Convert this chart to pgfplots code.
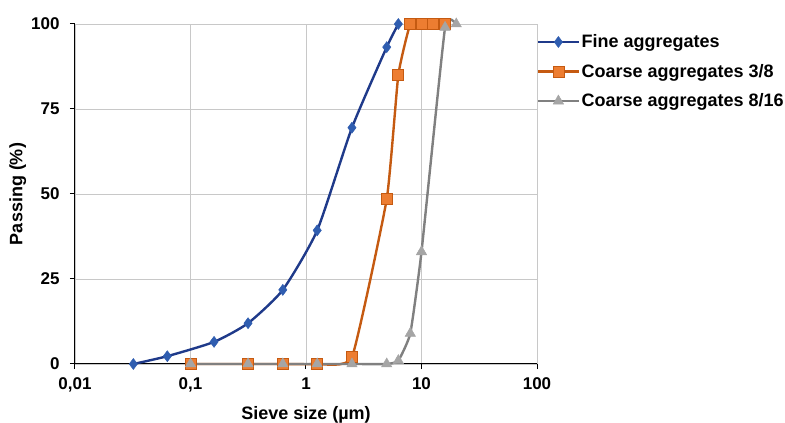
\documentclass[border=0pt]{standalone}
\usepackage{pgfplots}
\pgfplotsset{compat=1.18}
\usepackage{fontspec}
\setmainfont{Liberation Sans}
\definecolor{fineline}{HTML}{1F3A8A}
\definecolor{finemark}{HTML}{2F5DB0}
\definecolor{orline}{HTML}{C55A11}
\definecolor{ormark}{HTML}{ED7D31}
\definecolor{grline}{HTML}{808080}
\definecolor{grmark}{HTML}{A5A5A5}
\definecolor{gridc}{HTML}{C8C8C8}
\begin{document}
\begin{tikzpicture}[x=1pt,y=1pt]
\useasboundingbox (-75,-59) rectangle (710,364);
\begin{axis}[
  at={(0,0)}, anchor=south west,
  scale only axis, width=462pt, height=340pt,
  xmode=log, xmin=0.01, xmax=100, ymin=0, ymax=100,
  log basis x=10,
  xtick={0.01,0.1,1,10,100},
  xticklabels={{0,01},{0,1},1,10,100},
  ytick={0,25,50,75,100},
  minor xtick={}, 
  axis x line=bottom, axis y line=left,
  axis line style={-, black, line width=1pt},
  x axis line style={-}, y axis line style={-},
  grid=major, major grid style={gridc, line width=0.9pt},
  tick align=outside, major tick length=5pt,
  tick style={black, line width=1pt},
  font=\fontsize{18}{21}\selectfont\bfseries,
  ticklabel style={font=\fontsize{17}{20}\selectfont\bfseries},
  yticklabel style={xshift=-7pt},
  xticklabel style={yshift=-5pt},
  /pgf/number format/assume math mode=true,
  xlabel={Sieve size (µm)}, ylabel={Passing (\%)},
  xlabel style={yshift=-8pt},
  ylabel style={yshift=-2pt},
  clip=false,
  legend style={at={(axis description cs:1.0,0.975)}, anchor=north west, draw=none, fill=none,
    font=\fontsize{18}{21}\selectfont\bfseries, row sep=11pt, inner sep=0pt, xshift=0pt,
    /tikz/every even column/.append style={column sep=2pt}},
  legend cell align=left,
  legend image code/.code={\draw[#1,line width=2.4pt,mark repeat=2,mark phase=2] plot coordinates {(0pt,0pt) (20pt,0pt) (40pt,0pt)};},
]
\addplot[smooth, tension=0.35, color=fineline, line width=2.4pt, mark=diamond*, mark size=5.5pt,
  mark options={fill=finemark, draw=finemark, line width=0.5pt}]
  coordinates {(0.032,0) (0.063,2.3) (0.16,6.5) (0.315,12) (0.63,21.8) (1.25,39.3) (2.5,69.5) (5,93.2) (6.3,100)};
\addlegendentry{Fine aggregates}
\addplot[smooth, tension=0.25, color=orline, line width=2.4pt, mark=square*, mark size=5.5pt,
  mark options={fill=ormark, draw=orline, line width=0.8pt}]
  coordinates {(0.1,0) (0.315,0) (0.63,0) (1.25,0) (2.5,2) (5,48.5) (6.3,85) (8,100) (10,100) (12.5,100) (16,100)};
\addlegendentry{Coarse aggregates 3/8}
\addplot[smooth, tension=0.25, color=grline, line width=2.4pt, mark=triangle*, mark size=6pt,
  mark options={fill=grmark, draw=grmark, line width=0.5pt}]
  coordinates {(0.1,0) (0.315,0) (0.63,0) (1.25,0) (2.5,0) (5,0) (6.3,1) (8,9) (10,33) (16,99) (20,100)};
\addlegendentry{Coarse aggregates 8/16}
\end{axis}
\end{tikzpicture}
\end{document}
